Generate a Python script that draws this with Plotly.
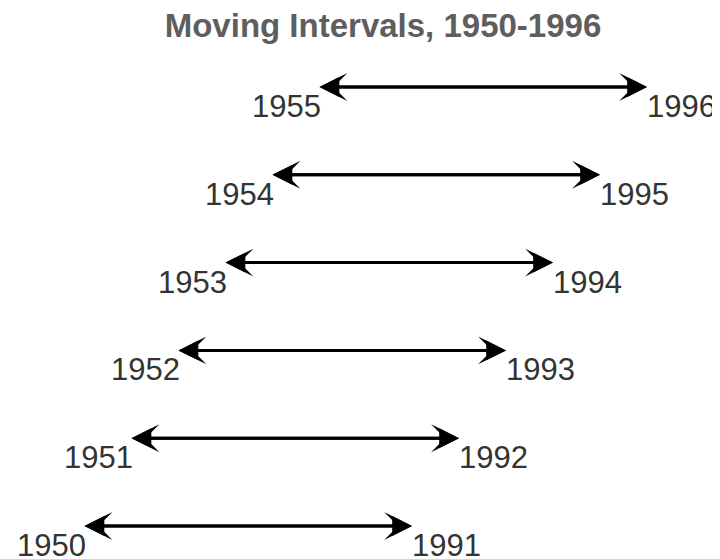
import plotly.graph_objects as go

# =========================================================
# DATA
# =========================================================
START_YEARS = [1950, 1951, 1952, 1953, 1954, 1955]
END_YEARS = [1991, 1992, 1993, 1994, 1995, 1996]
TITLE = "Moving Intervals, 1950-1996"

# schematic drawing: each interval is shifted one step per year,
# and all arrows have the same drawn length
DRAW_SPAN = 7.0

FONT = "Liberation Sans, Arial, sans-serif"
LABEL_COLOR = "#333333"
TITLE_COLOR = "#5e5e5e"

# page body has an 8px default margin, so the figure is 8px smaller
W, H = 712, 551

fig = go.Figure()

# invisible anchor trace so the axes exist
fig.add_trace(go.Scatter(
    x=START_YEARS, y=list(range(len(START_YEARS))),
    mode="markers", marker=dict(opacity=0), hoverinfo="skip", showlegend=False,
))

for i, (start, end) in enumerate(zip(START_YEARS, END_YEARS)):
    x0 = start
    x1 = start + DRAW_SPAN
    # double-headed arrow: barbed head + filled core for a chunkier notch
    for head, size in ((3, 1.55), (2, 1.32)):
        fig.add_annotation(
            x=x1, y=i, ax=x0, ay=i, xref="x", yref="y", axref="x", ayref="y",
            text="", showarrow=True, arrowside="end+start",
            arrowhead=head, startarrowhead=head,
            arrowsize=size, startarrowsize=size,
            arrowwidth=3, arrowcolor="#000000",
        )
    # start label (below-left of left tip)
    fig.add_annotation(
        x=x0, y=i, xref="x", yref="y", text=str(start), showarrow=False,
        xanchor="right", yanchor="middle", yshift=-19, xshift=5,
        height=28, valign="middle",
        font=dict(family=FONT, size=31, color=LABEL_COLOR),
    )
    # end label (below-right of right tip)
    fig.add_annotation(
        x=x1, y=i, xref="x", yref="y", text=str(end), showarrow=False,
        xanchor="left", yanchor="middle", yshift=-19, xshift=-2,
        height=28, valign="middle",
        font=dict(family=FONT, size=31, color=LABEL_COLOR),
    )

fig.update_layout(
    width=W, height=H,
    margin=dict(l=0, r=0, t=0, b=0),
    paper_bgcolor="white", plot_bgcolor="white",
    title=dict(
        text=f"<b>{TITLE}</b>", x=375 / W, xanchor="center",
        y=1 - 17 / H, yanchor="middle", yref="container",
        font=dict(family=FONT, size=33, color=TITLE_COLOR),
    ),
    xaxis=dict(range=[1948.404, 1963.553], visible=False, fixedrange=True),
    yaxis=dict(range=[-0.376, 5.900], visible=False, fixedrange=True),
    showlegend=False,
)

fig.write_html("out.html")
